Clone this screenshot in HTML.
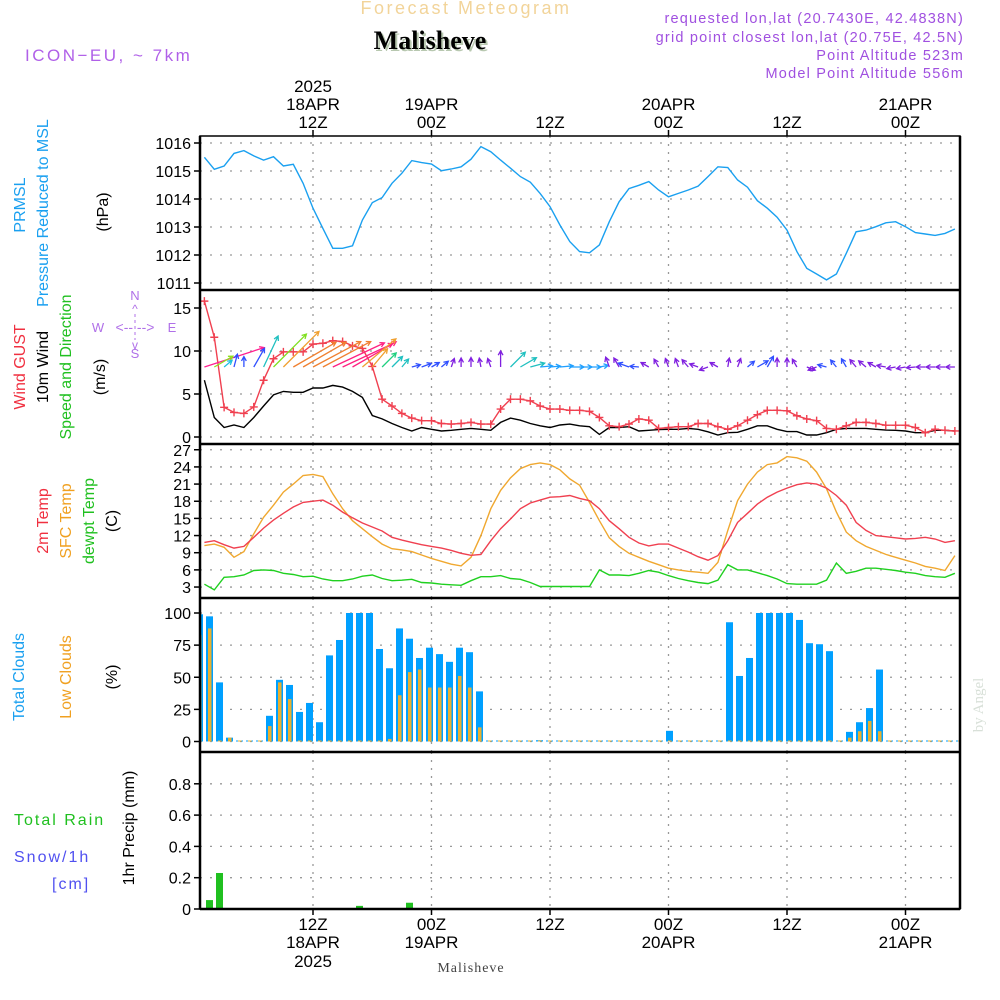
<!DOCTYPE html>
<html><head><meta charset="utf-8"><title>Meteogram Malisheve</title>
<style>
html,body{margin:0;padding:0;background:#fff;}
svg{display:block;font-family:"Liberation Sans",sans-serif;}
</style></head>
<body>
<svg id="chart" width="1000" height="1000" viewBox="0 0 1000 1000" xmlns="http://www.w3.org/2000/svg">
<rect x="0" y="0" width="1000" height="1000" fill="#fff"/>
<text x="466" y="14" text-anchor="middle" font-size="18" fill="#f2d49a" letter-spacing="2.5">Forecast Meteogram</text>
<text x="432" y="51" text-anchor="middle" font-size="26" font-weight="bold" font-family="Liberation Serif,serif" fill="#b8c8b0">Malisheve</text>
<text x="430" y="49" text-anchor="middle" font-size="26" font-weight="bold" font-family="Liberation Serif,serif" fill="#000">Malisheve</text>
<text x="25" y="61" font-size="17" fill="#b060e8" letter-spacing="2.5">ICON−EU, ~ 7km</text>
<g font-size="14.5" fill="#a050e0" text-anchor="end" letter-spacing="1.2">
<text x="964" y="23">requested lon,lat (20.7430E, 42.4838N)</text>
<text x="964" y="42">grid point closest lon,lat (20.75E, 42.5N)</text>
<text x="964" y="60">Point Altitude 523m</text>
<text x="964" y="78">Model Point Altitude 556m</text>
</g>
<g font-size="16">
<text transform="translate(25,205) rotate(-90)" text-anchor="middle" fill="#1aa0f0">PRMSL</text>
<text transform="translate(48,213) rotate(-90)" text-anchor="middle" fill="#1aa0f0">Pressure Reduced to MSL</text>
<text transform="translate(108,212) rotate(-90)" text-anchor="middle" fill="#000">(hPa)</text>
<text transform="translate(25,367) rotate(-90)" text-anchor="middle" fill="#f03040">Wind GUST</text>
<text transform="translate(48,367) rotate(-90)" text-anchor="middle" fill="#000">10m Wind</text>
<text transform="translate(71,367) rotate(-90)" text-anchor="middle" fill="#20c020">Speed and Direction</text>
<text transform="translate(105,377) rotate(-90)" text-anchor="middle" fill="#000">(m/s)</text>
<text transform="translate(48,521) rotate(-90)" text-anchor="middle" fill="#f03040">2m Temp</text>
<text transform="translate(71,521) rotate(-90)" text-anchor="middle" fill="#f0a020">SFC Temp</text>
<text transform="translate(94,521) rotate(-90)" text-anchor="middle" fill="#20c020">dewpt Temp</text>
<text transform="translate(117,521) rotate(-90)" text-anchor="middle" fill="#000">(C)</text>
<text transform="translate(24,677) rotate(-90)" text-anchor="middle" fill="#1aa0f0">Total Clouds</text>
<text transform="translate(71,677) rotate(-90)" text-anchor="middle" fill="#f0a020">Low Clouds</text>
<text transform="translate(117,677) rotate(-90)" text-anchor="middle" fill="#000">(%)</text>
<text x="14" y="825" fill="#20c020" letter-spacing="2">Total  Rain</text>
<text x="14" y="862" fill="#5050f0" letter-spacing="2">Snow/1h</text>
<text x="52" y="889" fill="#5050f0" letter-spacing="2">[cm]</text>
<text transform="translate(134,828) rotate(-90)" text-anchor="middle" fill="#000">1hr Precip (mm)</text>
</g>
<g font-size="13" fill="#b070e8" text-anchor="middle">
<text x="135" y="300">N</text><text x="135" y="358">S</text><text x="98" y="332">W</text><text x="172" y="332">E</text>
<text x="135" y="332" font-size="14">&lt;-- --&gt;</text>
<text x="135" y="313" font-size="12">^</text>
<text x="135" y="349" font-size="12">v</text>
<line x1="135" y1="314" x2="135" y2="340" stroke="#b070e8" stroke-dasharray="3,3"/>
</g>
<text transform="translate(983,705) rotate(-90)" text-anchor="middle" font-size="15" font-family="Liberation Serif,serif" fill="#d8e0d8">by Angel</text>
<text x="471" y="972" text-anchor="middle" font-size="14" font-family="Liberation Serif,serif" fill="#444" letter-spacing="1">Malisheve</text>
<g id="plot"></g>
</svg>
<script>
const pressure=[1015.49,1015.06,1015.18,1015.63,1015.73,1015.54,1015.39,1015.51,1015.18,1015.24,1014.56,1013.67,1012.95,1012.24,1012.24,1012.33,1013.25,1013.87,1014.05,1014.56,1014.92,1015.37,1015.3,1015.25,1015.01,1015.07,1015.15,1015.42,1015.87,1015.69,1015.39,1015.1,1014.8,1014.6,1014.2,1013.73,1013.07,1012.48,1012.12,1012.08,1012.36,1013.19,1013.9,1014.37,1014.49,1014.62,1014.32,1014.08,1014.2,1014.32,1014.46,1014.8,1015.15,1015.12,1014.68,1014.42,1013.94,1013.67,1013.35,1012.89,1012.12,1011.52,1011.32,1011.11,1011.32,1012.06,1012.83,1012.89,1013.01,1013.15,1013.19,1013.01,1012.8,1012.75,1012.7,1012.77,1012.93];
const gust=[15.8,11.6,3.45,2.86,2.74,3.5,6.6,9.1,9.9,9.9,9.9,10.8,10.9,11.2,11.1,10.6,10.3,8.2,4.4,3.6,2.74,2.2,1.9,1.9,1.57,1.5,1.57,1.7,1.5,1.5,3.25,4.4,4.4,4.2,3.6,3.25,3.25,3.1,3.1,2.98,2.27,1.3,1.2,1.5,2.1,1.95,1.0,1.1,1.2,1.2,1.57,1.57,1.2,0.9,1.3,1.95,2.6,3.1,3.1,3.05,2.47,2.1,1.9,1.0,0.9,1.3,1.7,1.7,1.57,1.37,1.37,1.37,1.1,0.5,0.9,0.78,0.7];
const windSpeed=[6.6,2.27,1.1,1.4,1.1,2.27,3.6,4.9,5.3,5.2,5.2,5.7,5.7,6.0,5.8,5.3,4.6,2.5,2.1,1.57,1.1,0.7,1.1,0.9,0.7,0.78,0.9,1.0,0.9,0.78,1.7,2.2,1.95,1.57,1.3,1.1,1.4,1.5,1.3,1.2,0.3,1.1,1.1,1.2,0.7,0.78,0.86,0.9,0.9,1.0,0.9,0.6,0.23,0.5,0.55,0.9,1.3,1.3,0.9,0.63,0.63,0.23,0.23,0.5,0.9,1.0,1.0,1.0,0.9,0.8,0.78,0.7,0.5,0.5,0.78,0.78,0.7];
const windToAngle=[18,30,40,75,90,60,65,45,45,30,30,28,28,25,25,30,40,50,45,45,50,15,20,30,40,70,90,90,100,110,90,45,30,15,5,5,5,0,0,0,10,110,120,160,175,150,120,110,110,130,160,200,150,80,70,40,30,60,90,90,120,-20,200,165,130,120,130,140,150,170,190,190,185,180,180,180,180];
const windColor=["#ff2090","#90e020","#20c0e0","#3050ff","#3050ff","#3050ff","#20c0c0","#80e020","#f0a030","#f08030","#f08030","#f08030","#f08030","#ff2080","#ff2080","#ff2080","#f0a030","#f0a030","#20d080","#20c0c0","#20c0c0","#3050ff","#3050ff","#3050ff","#3050ff","#8020e0","#8020e0","#8020e0","#8020e0","#8020e0","#8020e0","#20c0c0","#20c0c0","#20c0c0","#20a0ff","#20a0ff","#20a0ff","#20a0ff","#20a0ff","#20a0ff","#20a0ff","#8020e0","#8020e0","#3050ff","#3050ff","#8020e0","#8020e0","#8020e0","#8020e0","#8020e0","#8020e0","#8020e0","#8020e0","#8020e0","#8020e0","#3050ff","#3050ff","#3050ff","#8020e0","#8020e0","#8020e0","#8020e0","#8020e0","#3050ff","#3050ff","#3050ff","#8020e0","#8020e0","#8020e0","#8020e0","#8020e0","#8020e0","#8020e0","#8020e0","#8020e0","#8020e0","#8020e0"];
const temp2m=[10.8,11.1,10.4,9.8,10.1,11.7,13.3,14.7,15.9,17.0,17.8,18.0,18.2,17.3,16.1,15.1,14.2,13.5,12.8,11.7,11.2,10.8,10.4,10.1,9.8,9.4,8.9,8.55,8.7,11.1,13.2,14.9,16.7,17.7,18.2,18.7,18.8,19.0,18.5,18.1,16.7,14.6,13.2,11.7,10.7,10.2,10.5,10.5,9.8,9.1,8.3,7.7,8.5,11.1,14.3,15.9,17.5,18.7,19.6,20.3,20.9,21.2,21.0,20.3,19.0,17.3,14.3,12.9,12.0,11.8,11.6,11.4,11.5,11.7,11.4,10.8,11.1];
const tempSfc=[10.25,10.5,9.95,8.2,9.2,12.3,15.2,17.3,19.6,21.0,22.5,22.7,22.3,19.3,16.7,14.6,13.2,11.8,10.5,9.7,9.5,9.2,8.6,8.0,7.5,7.0,6.7,8.2,12.0,16.7,19.9,22.1,23.7,24.4,24.7,24.4,23.5,21.9,20.8,17.8,14.6,11.6,10.1,8.9,8.2,7.5,6.9,6.3,6.0,5.75,5.6,5.4,7.3,12.9,18.1,21.0,23.1,24.4,24.7,25.8,25.6,25.0,23.1,20.2,16.1,12.6,11.1,10.1,9.4,8.7,8.2,7.7,7.2,6.6,6.3,5.9,8.5];
const dewpt=[3.5,2.5,4.7,4.8,5.1,5.9,6.0,5.9,5.4,5.2,4.8,4.9,4.4,4.1,4.1,4.4,4.9,5.1,4.5,4.1,4.2,4.35,3.8,3.7,3.5,3.4,3.3,4.1,4.8,4.8,5.0,4.5,4.35,3.8,3.1,3.1,3.1,3.1,3.1,3.1,6.0,5.1,5.1,5.0,5.4,5.9,5.6,5.0,4.5,4.1,3.8,3.6,4.2,6.9,6.0,6.0,5.5,5.0,4.4,3.6,3.5,3.5,3.5,4.2,7.2,5.4,5.75,6.3,6.3,6.1,5.9,5.6,5.4,5.0,4.8,4.7,5.4];
const totalClouds=[99,97.4,46,3,0,0,0,20,48,44,23,30,15,67,79,100,100,100,72,57,88,80,65,73,68,62,73,69.5,39,0,0,0,0,0,1,0,0,0,0,0,0,0,0,0,0,0,0,8.3,0,0,0,0,0,92.8,51,65,100,100,100,100,94.6,76.5,75.7,70.3,0,7.5,15,26,56,0,0,0,0,0,0,0,0];
const lowClouds=[83,88,0,3,0,0,0,12,46,33,0,0,0,0,0,0,0,0,0,2,36,54,56,42,42,42,51,42,11,0,0,0,0,0,0,0,0,0,0,0,0,0,0,0,0,0,0,0,0,0,0,0,0,0,0,0,0,0,0,0,0,0,0,0,0,3,8,16,8,0,0,0,0,0,0,0,0];
const precip=[0,0.057,0.23,0,0,0,0,0,0,0,0,0,0,0,0,0,0.02,0,0,0,0,0.04,0,0,0,0,0,0,0,0,0,0,0,0,0,0,0,0,0,0,0,0,0,0,0,0,0,0,0,0,0,0,0,0,0,0,0,0,0,0,0,0,0,0,0,0,0,0,0,0,0,0,0,0,0,0,0];
const pTicks=[1016,1015,1014,1013,1012,1011];
const wTicks=[15,10,5,0];
const tTicks=[27,24,21,18,15,12,9,6,3];
const cTicks=[100,75,50,25,0];
const rTicks=["0.8","0.6","0.4","0.2","0"];
const timeTickHours=[11,23,35,47,59,71];
const topLabels=[["2025","18APR","12Z"],["","19APR","00Z"],["","","12Z"],["","20APR","00Z"],["","","12Z"],["","21APR","00Z"]];
const botLabels=[["12Z","18APR","2025"],["00Z","19APR",""],["12Z","",""],["00Z","20APR",""],["12Z","",""],["00Z","21APR",""]];

const NS="http://www.w3.org/2000/svg";
const plot=document.getElementById('plot');
const L=200,R=960;
const X=i=>313+(i-11)*9.875;
const BX=k=>199.5+10*k;
const yP=p=>143+(1016-p)*28;
const yW=v=>437-v*8.6;
const yT=t=>604.2-t*5.72;
const yC=c=>741.5-c*1.285;
const yR=r=>909-r*156.5;
const panels=[{t:136,b:290,y:yP,ticks:pTicks,n:'pressure'},{t:290,b:444,y:yW,ticks:wTicks,n:'wind'},{t:444,b:598,y:yT,ticks:tTicks,n:'temperature'},{t:598,b:752,y:yC,ticks:cTicks,n:'clouds'},{t:752,b:909,y:yR,ticks:rTicks,n:'precip'}];
function mk(tag,attrs,parent){const e=document.createElementNS(NS,tag);for(const k in attrs)e.setAttribute(k,attrs[k]);(parent||plot).appendChild(e);return e;}
const defs=mk('defs',{});
panels.forEach((p,pi)=>{const c=mk('clipPath',{id:'clip'+pi},defs);mk('rect',{x:L,y:p.t,width:R-L,height:p.b-p.t},c);});

panels.forEach((p,pi)=>{
  const g=mk('g',{});
  
  
  p.ticks.forEach(tv=>{
    const y=p.y(parseFloat(tv));
    const gl=mk('line',{x1:L,x2:R,y1:y,y2:y,stroke:'#999','stroke-width':1.3,'stroke-dasharray':'2,8'},g);
    
    
    mk('line',{x1:L-6,x2:L,y1:y,y2:y,stroke:'#000','stroke-width':1.5},g);
    const tx=mk('text',{x:L-9,y:y+6,'text-anchor':'end','font-size':16,fill:'#000'},g);
    tx.textContent=tv;
    
    
  });
  timeTickHours.forEach(h=>{
    const gl=mk('line',{x1:X(h),x2:X(h),y1:p.t,y2:p.b,stroke:'#999','stroke-width':1.3,'stroke-dasharray':'2,6'},g);
    
    
  });
});

function line(arr,yf,color,clip,name){
  const d=arr.map((v,i)=>(i?'L':'M')+X(i).toFixed(1)+','+yf(v).toFixed(1)).join('');
  const e=mk('path',{d:d,fill:'none',stroke:color,'stroke-width':1.4,'clip-path':'url(#clip'+clip+')'});
  
  
  return e;
}
line(pressure,yP,'#1aa0f0',0,'pressure-line');
line(windSpeed,yW,'#000',1,'wind-speed-line');
line(gust,yW,'#f04050',1,'gust-line');
const gm=mk('g',{stroke:'#f04050','stroke-width':1.4,'clip-path':'url(#clip1)'});


gust.forEach((v,i)=>{const x=X(i),y=yW(v);mk('path',{d:`M${x-4},${y}H${x+4}M${x},${y-4}V${y+4}`},gm);});
const wa=mk('g',{'clip-path':'url(#clip1)','stroke-width':1.3,fill:'none'});


windToAngle.forEach((a,i)=>{
  const len=Math.max(9,windSpeed[i]*9.5);
  const r=a*Math.PI/180;
  const x0=X(i),y0=367;
  const x1=x0+len*Math.cos(r),y1=y0-len*Math.sin(r);
  const h=5,ang=0.5;
  const hx1=x1-h*Math.cos(r-ang),hy1=y1+h*Math.sin(r-ang);
  const hx2=x1-h*Math.cos(r+ang),hy2=y1+h*Math.sin(r+ang);
  const e=mk('path',{d:`M${x0.toFixed(1)},${y0}L${x1.toFixed(1)},${y1.toFixed(1)}M${hx1.toFixed(1)},${hy1.toFixed(1)}L${x1.toFixed(1)},${y1.toFixed(1)}L${hx2.toFixed(1)},${hy2.toFixed(1)}`,stroke:windColor[i]},wa);
  
  
});
line(tempSfc,yT,'#f0a830',2,'sfc-temp-line');
line(temp2m,yT,'#f04050',2,'t2m-line');
line(dewpt,yT,'#20d020',2,'dewpt-line');
const cg=mk('g',{'clip-path':'url(#clip3)'});


totalClouds.forEach((v,k)=>{
  const y=yC(v);
  const b=mk('rect',{x:BX(k)-3.5,y:Math.min(y,740.5),width:7,height:Math.max(741.5-y,1),fill:'#00a0ff'},cg);
  
  
});
lowClouds.forEach((v,k)=>{
  const y=yC(v);
  const b=mk('rect',{x:BX(k)-1.5,y:Math.min(y,740.5),width:3.5,height:Math.max(741.5-y,1),fill:'#e8b030'},cg);
  
  
});
const rg=mk('g',{'clip-path':'url(#clip4)'});


precip.forEach((v,k)=>{
  if(v<=0)return;
  const y=yR(v);
  const b=mk('rect',{x:BX(k)-3.5,y:y,width:7,height:909-y,fill:'#20c020'},rg);
  
  
});
const fr=mk('g',{stroke:'#000',fill:'none'});


mk('rect',{x:L,y:136,width:R-L,height:909-136,'stroke-width':1.5},fr);
mk('line',{x1:L,x2:L,y1:136,y2:909,'stroke-width':2.5},fr);
mk('line',{x1:R,x2:R,y1:136,y2:909,'stroke-width':2.5},fr);
[290,444,598,752,909].forEach(y=>mk('line',{x1:L,x2:R,y1:y,y2:y,'stroke-width':2.5},fr));
timeTickHours.forEach((h,j)=>{
  const x=X(h);
  mk('line',{x1:x,x2:x,y1:130,y2:136,stroke:'#000','stroke-width':1.5});
  mk('line',{x1:x,x2:x,y1:909,y2:915,stroke:'#000','stroke-width':1.5});
  const ys=[92,110,128];
  topLabels[j].forEach((s,r)=>{if(!s)return;const t=mk('text',{x:x,y:ys[r],'text-anchor':'middle','font-size':17,fill:'#000'});t.textContent=s;
    
    });
  const yb=[930,948,967];
  botLabels[j].forEach((s,r)=>{if(!s)return;const t=mk('text',{x:x,y:yb[r],'text-anchor':'middle','font-size':17,fill:'#000'});t.textContent=s;
    
    });
});
</script>
</body></html>
